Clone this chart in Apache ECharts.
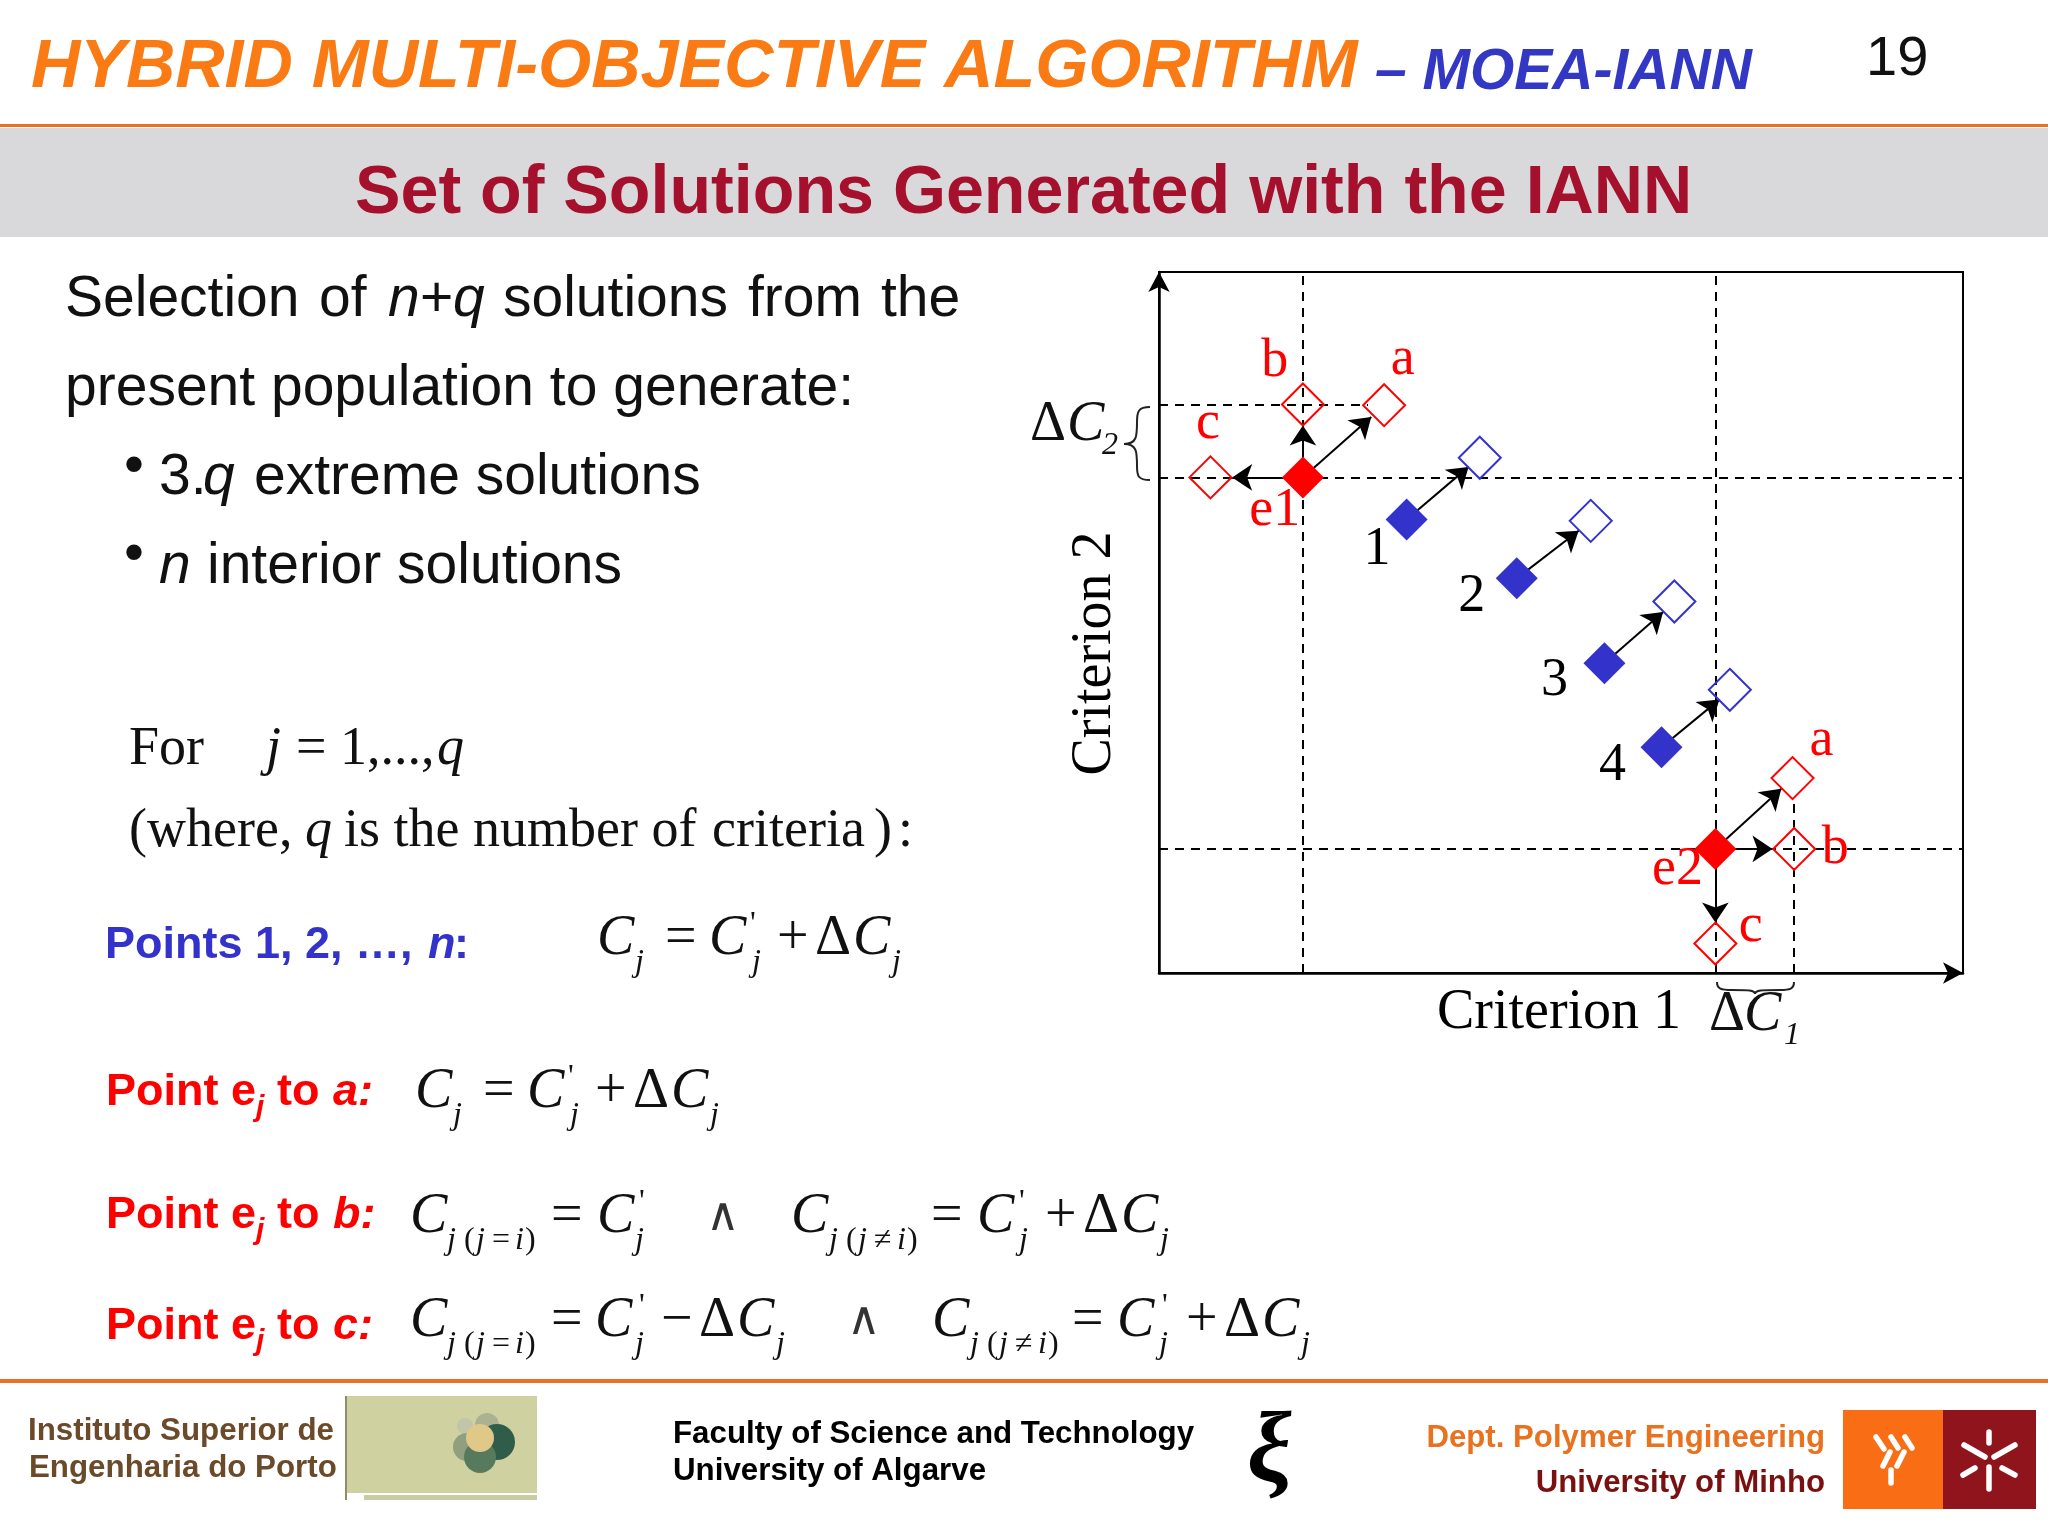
<!DOCTYPE html>
<html><head><meta charset="utf-8">
<style>html,body{margin:0;padding:0;background:#fff}#c{width:2048px;height:1536px}</style>
<script src="https://cdn.jsdelivr.net/npm/echarts@6/dist/echarts.min.js"></script>
</head><body><div id="c"></div>
<script>
// ---- chart values (axes run 0..100) ----
const solidRedPoints = [[17.9,70.7],[69.2,17.7]];
const solidBluePoints = [[30.8,64.7],[44.5,56.3],[55.4,44.2],[62.5,32.2]];
const hollowBluePoints = [[39.9,73.5],[53.7,64.5],[64.1,53.0],[71.0,40.4]];
const hollowRedPoints = [[28.0,81.0],[17.9,81.1],[6.4,70.7],[78.8,27.8],[79.0,17.7],[69.2,4.2]];
const dashedSegments = [
  [[17.9,0],[17.9,100]],[[69.2,0],[69.2,100]],
  [[0,70.7],[100,70.7]],[[0,17.7],[100,17.7]],
  [[0,81.0],[26,81.0]],[[78.9,0],[78.9,24.8]]
];
const arrowSegments = [
  [[17.9,70.7],[26.4,79.3]],[[17.9,70.7],[17.9,78.1]],[[17.9,70.7],[9.1,70.7]],
  [[30.8,64.7],[38.5,72.2]],[[44.5,56.3],[52.2,63.1]],[[55.4,44.2],[62.7,51.5]],[[62.5,32.2],[69.7,39.0]],
  [[69.2,17.7],[77.4,26.3]],[[69.2,17.7],[76.3,17.7]],[[69.2,17.7],[69.2,7.2]]
];
const redLabels = [[14.4,87.2,'b'],[30.3,87.5,'a'],[6.1,78.4,'c'],[14.4,66.0,'e1'],[82.4,33.1,'a'],[84.1,17.7,'b'],[64.5,14.7,'e2'],[73.6,6.6,'c']];
const blackLabels = [[27.1,60.4,'1'],[38.9,53.7,'2'],[49.2,41.7,'3'],[56.4,29.6,'4']];
const xAxisName = 'Criterion 1';
const yAxisName = 'Criterion 2';

// ---- page furniture ----
const SANS='"Liberation Sans"', SERIF='"Liberation Serif"';
const RED='#ff0000', BLUE='#3333cc', ORANGE='#fa7a14', CRIMSON='#a5102c';
const g=[];
function t(x,y,text,fs,color,o){o=o||{};
  const fam=o.serif?SERIF:SANS;
  const st={text:text,x:x,y:y-fs*0.3,fontSize:fs,fontFamily:fam,fill:color,
    fontWeight:o.bold?'bold':'normal',fontStyle:o.italic?'italic':'normal',
    align:o.align||'left',verticalAlign:'middle'};
  g.push({type:'text',z:20,style:st});
}
function rect(x,y,w,h,c){g.push({type:'rect',z:1,shape:{x:x,y:y,width:w,height:h},style:{fill:c}});}
function circ(x,y,r,c,op){g.push({type:'circle',z:2,shape:{cx:x,cy:y,r:r},style:{fill:c,opacity:op||1}});}
function seg(a,b,c,d,col,w){g.push({type:'line',z:3,shape:{x1:a,y1:b,x2:c,y2:d},style:{stroke:col,lineWidth:w,lineCap:'round'}});}
function bez(p,col,w){g.push({type:'bezierCurve',z:5,shape:{x1:p[0],y1:p[1],cpx1:p[2],cpy1:p[3],cpx2:p[4],cpy2:p[5],x2:p[6],y2:p[7]},style:{fill:null,stroke:col,lineWidth:w}});}

// header
t(31,89,'HYBRID MULTI-OBJECTIVE ALGORITHM',68.3,ORANGE,{bold:1,italic:1});
t(1375,90,'– MOEA-IANN',57,'#3338c4',{bold:1,italic:1});
t(1866,76,'19',56,'#111');
rect(0,124,2048,3,'#e8721f');
rect(0,128,2048,109,'#d9d9db');
t(355,215,'Set of Solutions Generated with the IANN',68.2,CRIMSON,{bold:1});

// body text
[['Selection',65],['of',319],['solutions',503],['from',748],['the',881]].forEach(p=>t(p[1],317,p[0],57,'#111'));
t(388,317,'n',57,'#111',{italic:1});t(420,317,'+',57,'#111');t(453,317,'q',57,'#111',{italic:1});
t(65,406,'present population to generate:',57,'#111');
t(124,484,'•',57,'#111');t(159,495,'3.',57,'#111');t(203,495,'q',57,'#111',{italic:1});t(254,495,'extreme solutions',57,'#111');
t(124,572,'•',57,'#111');t(159,584,'n',57,'#111',{italic:1});t(207,584,'interior solutions',57,'#111');
t(129,766,'For',54,'#111',{serif:1});
t(266,766,'j',54,'#111',{serif:1,italic:1});t(296,766,'=',54,'#111',{serif:1});t(340,766,'1,...,',54,'#111',{serif:1});t(437,766,'q',54,'#111',{serif:1,italic:1});
t(129,848,'(where,',54,'#111',{serif:1});t(305,848,'q',54,'#111',{serif:1,italic:1});
t(344,848,'is the number of',54,'#111',{serif:1});t(712,848,'criteria',54,'#111',{serif:1});t(874,848,')',54,'#111',{serif:1});t(898,848,':',54,'#111',{serif:1});

// coloured formula captions
t(105,959,'Points 1, 2, …,',45,BLUE,{bold:1});t(428,959,'n',45,BLUE,{bold:1,italic:1});t(454,959,':',45,BLUE,{bold:1});
function cap(y,ch){t(106,y,'Point e',45,RED,{bold:1});t(256,y+11,'j',30,RED,{bold:1,italic:1});
  t(277,y,'to',45,RED,{bold:1});t(333,y,ch+':',45,RED,{bold:1,italic:1});}
cap(1106,'a');cap(1229,'b');cap(1340,'c');

// formula helpers
function C(x,y){t(x,y,'C',56,'#111',{serif:1,italic:1});}
function J(x,y){t(x,y+16,'j',32,'#111',{serif:1,italic:1});}
function prime(x,y){t(x,y-22,"'",32,'#111',{serif:1});}
function op(x,y,s){t(x,y,s,56,'#111',{serif:1});}
function wedge(x,y){t(x,y-2,'∧',46,'#333',{serif:1});}
function sub(x,y,eq){const yy=y+16;[['j',0,1],['(',17,0],['j',29,1],[eq,45,0],['i',68,1],[')',78,0]].forEach(p=>
  t(x+p[1],yy,p[0],32,'#111',{serif:1,italic:!!p[2]}));}
function plusDelta(x,y,s){op(x,y,s);op(x+38,y,'Δ');C(x+76,y);J(x+115,y);}
function simple(x,y){C(x,y);J(x+38,y);op(x+68,y,'=');C(x+112,y);prime(x+153,y);J(x+155,y);plusDelta(x+180,y,'+');}
simple(597,956);simple(415,1109);
const yb=1234,yc=1338;
C(410,yb);sub(447,yb,'=');op(551,yb,'=');C(597,yb);prime(639,yb);J(635,yb);wedge(706,yb);
C(791,yb);sub(829,yb,'≠');op(931,yb,'=');C(977,yb);prime(1019,yb);J(1019,yb);plusDelta(1045,yb,'+');
C(410,yc);sub(447,yc,'=');op(551,yc,'=');C(595,yc);prime(639,yc);J(635,yc);plusDelta(661,yc,'−');wedge(847,yc);
C(932,yc);sub(970,yc,'≠');op(1072,yc,'=');C(1117,yc);prime(1162,yc);J(1159,yc);plusDelta(1186,yc,'+');

// delta annotations on the plot
t(1030,442,'Δ',56,'#111',{serif:1});t(1067,442,'C',56,'#111',{serif:1,italic:1});t(1102,455,'2',32,'#111',{serif:1,italic:1});
[[1150,407,1138,407,1137,412,1137,422],[1137,422,1137,436,1137,444,1124,444],[1124,444,1137,444,1137,452,1137,466],[1137,466,1137,476,1138,480,1150,480]].forEach(p=>bez(p,'#222',2));
t(1709,1032,'Δ',56,'#111',{serif:1});t(1744,1032,'C',56,'#111',{serif:1,italic:1});t(1784,1045,'1',32,'#111',{serif:1,italic:1});
[[1717,982,1717,989,1721,990,1732,990],[1732,990,1748,990,1755,990,1755,994],[1755,994,1755,990,1762,990,1780,990],[1780,990,1790,990,1794,989,1794,982]].forEach(p=>bez(p,'#222',2));

// footer
rect(0,1379,2048,4,'#e8721f');
t(28,1441,'Instituto Superior de',31.3,'#6b4a2a',{bold:1});
t(29,1478,'Engenharia do Porto',31.3,'#6b4a2a',{bold:1});
rect(346,1396,191,97,'#cfd1a0');rect(364,1495,173,5,'#c9cba6');rect(345,1396,2,104,'#8d8f6a');
circ(465,1426,8,'#c2c6a8');circ(487,1425,12,'#aab292');circ(467,1447,14,'#8f9f80');circ(497,1442,18,'#2f5d4a');circ(480,1457,16,'#587a5c');circ(480,1438,14,'#e0c888');
t(673,1444,'Faculty of Science and Technology',31.3,'#000',{bold:1});
t(673,1481,'University of Algarve',31.3,'#000',{bold:1});
t(1247,1484,'ξ',100,'#000',{serif:1,italic:1,bold:1});
t(1825,1448,'Dept. Polymer Engineering',31.2,'#e8721f',{bold:1,align:'right'});
t(1825,1493,'University of Minho',31.2,'#7a1010',{bold:1,align:'right'});
rect(1843,1410,100,99,'#f96d14');rect(1943,1410,93,99,'#8f141b');
[[1876,1437,1884,1449],[1891,1437,1898,1448],[1905,1437,1912,1448],[1890,1452,1883,1466],[1904,1452,1897,1466],[1891,1470,1891,1483]].forEach(s=>seg(s[0],s[1],s[2],s[3],'#fff',5.5));
[[1989,1432,1989,1443],[1964,1445,1985,1457],[2015,1445,1994,1457],[1989,1467,1989,1489],[1975,1468,1963,1475],[2002,1468,2015,1475]].forEach(s=>seg(s[0],s[1],s[2],s[3],'#fff',5.5));

// ---- the plot itself ----
const pointSize=42;
const labelSeries=(data,color)=>({type:'scatter',data:data,symbolSize:1,z:9,silent:true,
  itemStyle:{color:'transparent',opacity:1},
  label:{show:true,position:'inside',opacity:1,formatter:p=>p.value[2],fontFamily:SERIF,fontSize:54,color:color}});
const chart=echarts.init(document.getElementById('c'),null,{renderer:'canvas',width:2048,height:1536});
chart.setOption({
  animation:false,backgroundColor:'#fff',
  grid:{left:1159,top:272,width:804,height:701,show:true,borderColor:'#000',borderWidth:2,backgroundColor:'transparent'},
  xAxis:{type:'value',min:0,max:100,splitLine:{show:false},axisTick:{show:false},axisLabel:{show:false},
    axisLine:{onZero:false,symbol:['none','arrow'],symbolSize:[16,20],symbolOffset:[0,0],lineStyle:{color:'#000',width:2.5}},
    name:xAxisName,nameLocation:'middle',nameGap:12,nameTextStyle:{fontFamily:SERIF,fontSize:56,color:'#000',verticalAlign:'top',padding:[0,4,0,0]}},
  yAxis:{type:'value',min:0,max:100,splitLine:{show:false},axisTick:{show:false},axisLabel:{show:false},
    axisLine:{onZero:false,symbol:['none','arrow'],symbolSize:[16,20],symbolOffset:[0,0],lineStyle:{color:'#000',width:2.5}},
    name:yAxisName,nameLocation:'middle',nameRotate:90,nameGap:36,nameTextStyle:{fontFamily:SERIF,fontSize:56,color:'#000',padding:[0,62,0,0]}},
  series:[
    {type:'lines',coordinateSystem:'cartesian2d',z:3,silent:true,data:dashedSegments.map(s=>({coords:s})),
      lineStyle:{color:'#000',width:2,type:[9,7],opacity:1,curveness:0}},
    {type:'lines',coordinateSystem:'cartesian2d',z:4,silent:true,data:arrowSegments.map(s=>({coords:s})),
      symbol:['none','arrow'],symbolSize:20,
      lineStyle:{color:'#000',width:2,opacity:1,curveness:0}},
    {type:'scatter',z:6,symbol:'diamond',symbolSize:pointSize,data:hollowRedPoints,silent:true,
      itemStyle:{color:'transparent',borderColor:RED,borderWidth:2,opacity:1}},
    {type:'scatter',z:6,symbol:'diamond',symbolSize:pointSize,data:hollowBluePoints,silent:true,
      itemStyle:{color:'transparent',borderColor:BLUE,borderWidth:2,opacity:1}},
    {type:'scatter',z:7,symbol:'diamond',symbolSize:pointSize,data:solidRedPoints,silent:true,itemStyle:{color:RED,opacity:1}},
    {type:'scatter',z:7,symbol:'diamond',symbolSize:pointSize,data:solidBluePoints,silent:true,itemStyle:{color:BLUE,opacity:1}},
    labelSeries(redLabels,RED),
    labelSeries(blackLabels,'#000')
  ],
  graphic:{elements:g}
});
</script></body></html>
